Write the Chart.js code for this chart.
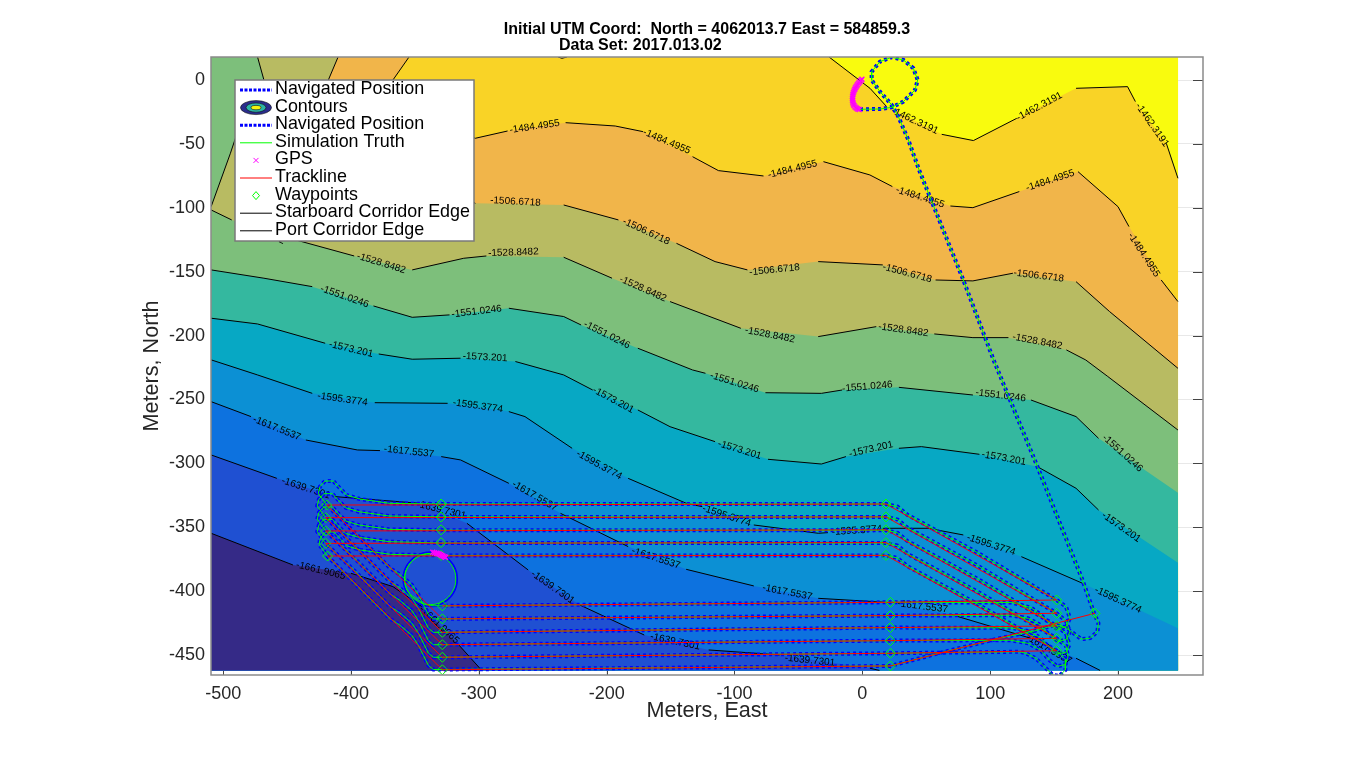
<!DOCTYPE html>
<html><head><meta charset="utf-8">
<style>html,body{margin:0;padding:0;background:#fff;overflow:hidden}canvas{display:block}</style>
<script src="https://cdn.jsdelivr.net/npm/chart.js@4"></script>
</head><body><canvas id="c" width="1368" height="759"></canvas>
<script>
const titleLines = ["Initial UTM Coord:  North = 4062013.7 East = 584859.3", "Data Set: 2017.013.02                              "];
const xTicks = [-500,-400,-300,-200,-100,0,100,200];
const yTicks = [-450,-400,-350,-300,-250,-200,-150,-100,-50,0];
const levels = ["-1462.3191","-1484.4955","-1506.6718","-1528.8482","-1551.0246","-1573.201","-1595.3774","-1617.5537","-1639.7301","-1661.9065"];
const legendNames = ["Navigated Position","Contours","Navigated Position","Simulation Truth","GPS","Trackline","Waypoints","Starboard Corridor Edge","Port Corridor Edge"];
const regionColors = ["#f9fb0e","#f9d326","#f1b54a","#b8bb62","#7dbf7b","#7dbf7b","#34b89f","#07a8c4","#0c90d4","#0d72df","#1f50d2","#352a87"];

// null = break in the line where a contour label sits
const dataExtent = [[-509.5,18],[247,18],[247,-462],[-509.5,-462],[-509.5,18]];
const closeRight = [[247,-462],[-509.5,-462],[-509.5,18]];
const closeRightLow = [[247,-462],[-509.5,-462]];
const closeBottom = [[-509.5,-462]];
const closeCorner = [[-509.5,18]];

const c1462 = [[-26,18],[6,-6.5],[19,-20.8],null,[62.1,-42.5],[86.9,-47.4],[120.8,-30],null,[167.2,-6.5],[207.5,-5.2],[213.6,-16.9],null,[237.8,-49.5],[246.9,-76.9]];
const c1484 = [[-354.6,18],[-367.2,0],[-357.2,-28.7],[-302.7,-45.6],[-277.5,-39.9],null,[-232.1,-33.4],[-193.3,-36],[-171.6,-40.4],null,[-132.8,-60],[-112.6,-70.9],[-77.3,-75.1],null,[-30.4,-63.9],[5.9,-74.3],[23.5,-83.4],null,[68.9,-98.6],[86.5,-99.9],[122.8,-87.3],null,[168.7,-71.7],[200,-99.1],[208.6,-114.7],null,[233.8,-156.5],[246.9,-173.4]];
const c1506 = [[-410.1,18],[-417.7,0],[-392.4,-54.7],[-302.7,-96.5],null,[-233.6,-97.8],[-190.8,-109.5],null,[-145.4,-127.8],[-115.2,-142.1],[-89.9,-148.6],null,[-34.5,-142.1],[16,-144.7],null,[57.3,-156.5],[86.5,-157.2],[117.8,-151.2],null,[167.2,-157.8],[193.4,-181.2],[246.9,-225.6]];
const c1528top = [[-473.1,18],[-468.1,0],[-488.2,-39],[-494.3,-57.3],[-509.4,-99.1]];
const c1528 = [[-509.4,-101.7],[-493.3,-109.5],null,[-452.9,-122.5],[-397.5,-137.7],null,[-352.1,-148.6],[-311.8,-139.5],[-294.1,-137.7],null,[-233.6,-138.7],[-195.8,-155.1],null,[-150.4,-173.4],[-95,-194.3],null,[-34.5,-200.8],[10.9,-193],null,[56.3,-198.7],[86.5,-201.6],[114.3,-201.6],null,[159.6,-211.2],[174.8,-219.1],[192,-232],[246.9,-273.9]];
const c1551 = [[-509.4,-148.6],[-468.1,-155.1],[-430.3,-161.7],null,[-382.4,-176.8],[-352.1,-185.7],[-322.9,-183.8],null,[-276.5,-178.6],[-233.6,-185.1],[-220,-191.7],null,[-175.6,-209.9],[-132.8,-226.9],[-122.7,-229.5],null,[-75.8,-244.7],[-32,-245.2],[-15.8,-242.6],null,[28.6,-240.5],[86.5,-246.5],null,[131.9,-250.4],[167.2,-263.4],[184.8,-280.4],null,[246.9,-322.9]];
const c1573 = [[-509.4,-186.4],[-473.1,-190.9],[-420.2,-206],null,[-378.3,-214.4],[-352.1,-218.5],[-314.3,-217.7],null,[-271.4,-220.3],[-233.6,-230.8],[-210.9,-242.6],null,[-175.6,-258.2],[-150.4,-271.3],[-115.2,-283],null,[-73.8,-296.8],[-32,-300.5],[-12.8,-294.7],null,[28.6,-288.2],[46.2,-286.9],[91.6,-292.9],null,[137,-302.6],[167.2,-319.5],[184.8,-336.5],null,[246.9,-377.7]];
const c1595 = [[-509.4,-219],[-473.1,-230.8],[-430.3,-245.2],null,[-381.4,-252.5],[-324.4,-253],null,[-276.5,-259.5],[-263.9,-263.4],[-227,-288.2],null,[-183.2,-311.7],[-137.8,-331.2],[-125.2,-333.9],null,[-84.9,-348.2],[-34.5,-354.7],[-26.9,-354.2],null,[15.9,-350.8],[51.3,-350.8],[79,-356],null,[124.4,-373],[172.2,-393.8],null,[246.9,-429]];
const c1617 = [[-509.4,-251.7],[-478.2,-263.4],null,[-435.3,-281.7],[-395,-289.5],[-377.3,-290],null,[-329.4,-294.7],[-314.3,-297.3],[-276.5,-315.6],null,[-236.1,-339.1],[-183.2,-365.1],null,[-137.8,-382.9],[-84.9,-395.9],null,[-34.5,-405.6],[18.5,-408.7],null,[68.9,-418.1],[131.9,-436.9],null,[167.2,-452.5],[186,-462]];
const c1639 = [[-509.4,-293.4],[-458,-311.7],null,[-412.6,-326],[-347.1,-331.2],null,[-309.3,-346.9],[-261.4,-383.4],null,[-221,-410.8],[-170.6,-434.3],null,[-120.2,-446],[-64.7,-449.9],null,[5.9,-460.3],[13.4,-462]];
const c1661 = [[-509.4,-354.7],[-445.4,-379.5],null,[-400,-386],[-367.2,-396.4],[-344.6,-412.1],null,[-316.8,-440.8],[-297.7,-462]];
const cTopScrap = [[-238,18],[-235,17],[-231,18]];

// level index, x, y, screen angle in degrees
const contourLabels = [
[0,41,-32,25],[0,138.5,-20.8,-28],[0,226.7,-35.2,55],
[1,-256.3,-36.5,-8],[1,-153,-48.2,23],[1,-54.6,-69.9,-14],[1,45.2,-91.8,18],[1,147,-78.7,-18],[1,220.2,-136.9,57],
[2,-271.4,-95.2,3],[2,-169.1,-118.6,25],[2,-68.7,-148.6,-6],[2,35.1,-151.2,15],[2,138,-153.3,7],
[3,-470,-118,25],[3,-376.3,-143.4,17],[3,-273,-135,-2],[3,-171.6,-163.5,24],[3,-72.3,-199.5,11],[3,32.1,-195.6,8],[3,137,-204.7,11],
[4,-405,-169.5,19],[4,-301.7,-181.2,-7],[4,-199.8,-199.5,27],[4,-100,-236.8,17],[4,3.9,-240,-5],[4,108.2,-247,7],[4,203.5,-292.1,42],
[5,-400,-210.7,13],[5,-295.1,-217,3],[5,-194.8,-250.4,28],[5,-96,-289.5,17],[5,6.9,-289,-13],[5,110.7,-296,10],[5,202.5,-350,35],
[6,-406.6,-249.9,8],[6,-300.7,-255.1,8],[6,-205.9,-301.3,29],[6,-106.1,-341.2,18],[6,-4.2,-352.6,-4],[6,100.7,-363.8,18],[6,200,-406.9,25],
[7,-458,-272.6,22],[7,-354.6,-290.8,6],[7,-256.3,-325.5,30],[7,-161.5,-374.3,18],[7,-58.7,-400.9,11],[7,47.2,-412.1,7],[7,146,-445.5,30],
[8,-435.3,-319.5,18],[8,-329.4,-336.5,14],[8,-242.2,-397,35],[8,-146.4,-439.5,12],[8,-41,-454.3,6],
[9,-423.7,-383.9,14],[9,-331,-426.4,43]];

const surveyPath = [[-1.8,-22.9],[13.8,-22.7],[23,-21.4],[32.1,-16.9],[41.2,-7.8],[43.3,0],[39.9,9.2],[32.1,15.7],[23,17.8],[13.8,14.4],[7.3,6.5],[7.3,0],[13.8,-9.1],[23,-19.5],[28.2,-28.7],[36,-46.9],[44.4,-70.4],[79,-156.5],[102.7,-219.1],[137,-302.6],[172.2,-391.2],[181.3,-417.3],[184.7,-425.1],[183.9,-431.6],[178.2,-436.8],[171.6,-437.6],[165.1,-432.9],[158.6,-428.2],[151.3,-426.4],[135,-431],[106.7,-437],[64,-447.5],[22,-458.5],[-328.5,-461.3],
[-335.6,-461.3],[-339.5,-458],[-343.4,-450.2],[-347.3,-442.3],[-352.5,-434.5],[-361.7,-426.7],[-369.5,-421.5],[-395,-396],[-418.5,-372.5],
[-425,-363.3],[-423.8,-358.1],[-419.9,-353.7],[-413.3,-353.7],[-408.1,-359.4],[-402.9,-364.7],[-392.5,-367.8],[-369,-371.2],[-329.5,-372],[18.5,-372],
[27.6,-374.1],[35.5,-380.6],[90,-410],[152,-446.6],
[159.3,-453.9],[158.8,-461.7],[154,-466.4],[148.9,-465.6],[143.7,-460.4],[135.8,-452.6],[128,-448.6],[123,-447.4],[22,-448.6],[-328.5,-451.7],
[-335.6,-451.7],[-339.5,-448.4],[-343.4,-440.6],[-347.3,-432.7],[-352.5,-424.9],[-361.7,-417.1],[-369.5,-411.9],[-395,-386.2],[-419.8,-362.6],
[-426.4,-353.4],[-425.1,-348.2],[-421.2,-343.8],[-414.6,-343.8],[-409.4,-349.5],[-404.2,-354.8],[-393.8,-357.9],[-370.3,-361.3],[-329.5,-362.3],[18.5,-362.3],
[27.6,-364.4],[35.5,-370.9],[90,-400.3],[152,-436.9],
[159.3,-442.9],[161,-451.4],[158.5,-457.4],[152.5,-458.9],[146.3,-453.9],[139,-445.9],[130,-440.9],[116,-438.4],[22,-438.7],[-328.5,-441.9],
[-335.6,-441.9],[-339.5,-438.6],[-343.4,-430.8],[-347.3,-422.9],[-352.5,-415.1],[-361.7,-407.3],[-369.5,-402.1],[-395,-376.4],[-419.8,-352.9],
[-426.4,-343.7],[-425.1,-338.5],[-421.2,-334.1],[-414.6,-334.1],[-409.4,-339.8],[-404.2,-345.1],[-393.8,-348.2],[-370.3,-351.6],[-329.5,-352.3],[18.5,-352.3],
[27.6,-354.4],[35.5,-360.9],[90,-390.3],[152,-427.2],
[159.3,-433.2],[162,-441.7],[159.5,-447.7],[153,-449.2],[146.3,-444.2],[139,-436.2],[130,-431.2],[116,-428.7],[22,-428.5],[-328.5,-432.2],
[-335.6,-432.2],[-339.5,-428.9],[-343.4,-421.1],[-347.3,-413.2],[-352.5,-405.4],[-361.7,-397.6],[-369.5,-392.4],[-395,-366.7],[-419.8,-342.5],
[-426.4,-333.3],[-425.1,-328.1],[-421.2,-323.7],[-414.6,-323.7],[-409.4,-329.4],[-404.2,-334.7],[-393.8,-337.8],[-370.3,-341.2],[-329.5,-341.9],[18.5,-341.9],
[27.6,-344],[35.5,-350.5],[90,-379.9],[152,-417.3],
[159.3,-423.3],[162.4,-431.8],[159.5,-437.8],[153,-439.3],[146.3,-434.3],[139,-426.3],[130,-421.3],[116,-418.8],[22,-419.1],[-328.5,-421.7],
[-335.6,-421.7],[-339.5,-418.4],[-343.4,-410.6],[-347.3,-402.7],[-352.5,-394.9],[-361.7,-387.1],[-369.5,-381.9],[-395,-356.2],[-419,-332.6],
[-425.6,-323.4],[-424.3,-318.2],[-420.4,-313.8],[-413.8,-313.8],[-408.6,-319.5],[-403.4,-324.8],[-393,-327.9],[-369.5,-331.3],[-329.5,-331.8],[18.5,-331.8],
[27.6,-333.9],[35.5,-340.4],[90,-369.8],[152,-406.9],
[159.3,-412.1],[162.4,-421.2],[159.3,-427.8],[152.8,-429.9],[146.3,-425.2],[139.8,-418.6],[132,-412.9],[117,-408.9],[22,-408.7],[-328.5,-411.5]];

const truthCircle = [[-328.5,-411.5],[-340.8,-410.7],[-347.3,-406.8],[-355.3,-400.5],[-358,-390.5],[-355.3,-380.5],[-348,-373.2],[-338,-370.5],[-328,-373.2],[-320.7,-380.5],[-318,-390.5],[-320.7,-400.5],[-328,-407.8],[-338,-410.5],[-348,-407.8],[-355.3,-400.5],[-358,-390.5],[-355.3,-380.5],[-348,-373.2],[-338,-370.5],[-332,-371]];
const navCircle = [[-328.5,-411.5],[-340.8,-411.5],[-348.5,-408.7],[-356.2,-401],[-359,-390.5],[-356.2,-380],[-348.5,-372.3],[-338,-369.5],[-327.5,-372.3],[-319.8,-380],[-317,-390.5],[-319.8,-401],[-327.5,-408.7],[-338,-411.5],[-348.5,-408.7],[-356.2,-401],[-359,-390.5],[-356.2,-380],[-348.5,-372.3],[-338,-369.5],[-332,-370.5]];

const trackline = [[182,-417.3],[22,-458.5],[-328.5,-461.5],[-418.3,-372.5],[18.5,-372],[152,-446.6],[22,-448.6],[-328.5,-451.7],[-419.8,-362.6],[18.5,-362],[152,-436.9],[22,-438.7],[-328.5,-441.9],[-419.8,-352.9],[18.5,-352],[152,-427.2],[22,-428.5],[-328.5,-432.2],[-419.8,-342.5],[18.5,-341.9],[152,-417.3],[22,-419.1],[-328.5,-421.7],[-419,-332.6],[18.5,-331.8],[152,-406.9],[22,-408.7],[-328.5,-411.5]];

const waypoints = [[182,-417.3],[22,-458.5],[-328.5,-461.5],[-418.3,-372.5],[-329.5,-372],[18.5,-372],[152,-446.6],[22,-448.6],[-328.5,-451.7],[-419.8,-362.6],[-329.5,-362],[18.5,-362],[152,-436.9],[22,-438.7],[-328.5,-441.9],[-419.8,-352.9],[-329.5,-352],[18.5,-352],[152,-427.2],[22,-428.5],[-328.5,-432.2],[-419.8,-342.5],[-329.5,-341.9],[18.5,-341.9],[152,-417.3],[22,-419.1],[-328.5,-421.7],[-419,-332.6],[-329.5,-331.8],[18.5,-331.8],[152,-406.9],[22,-408.7],[-328.5,-411.5]];

const gpsFixes = [[-0.3,0.6],[-1.2,-0.4],[-2.1,-1.5],[-3,-2.6],[-3.8,-3.7],[-4.6,-4.8],[-5.3,-6],[-5.9,-7.3],[-6.5,-8.6],[-7,-10],[-7.4,-11.4],[-7.6,-12.9],[-7.7,-14.4],[-7.7,-15.9],[-7.5,-17.4],[-7.1,-18.8],[-6.5,-20],[-5.7,-21.1],[-4.7,-22],[-3.6,-22.7],[-2.4,-23.1],
[-336,-369.5],[-334.5,-370],[-333,-370.3],[-332,-370.6],[-331,-371],[-330,-371.5],[-329,-372],[-328,-372.5],[-327,-373],[-326,-373.5]];

const FONT = '"Liberation Sans", Arial, sans-serif';
const pts = a => a.map(p => ({x:p[0], y:p[1]}));
const runsOf = a => { const out=[]; let cur=[]; a.forEach(p=>{ if(p){cur.push(p);} else {out.push(cur);cur=[];} }); out.push(cur); return out; };
const solid = a => a.filter(Boolean);

const regions = [
 [dataExtent,[]],[c1462,closeRight],[c1484,closeRight],[c1506,closeRight],
 [c1528top,closeCorner],[c1528,closeRightLow],[c1551,closeRightLow],[c1573,closeRightLow],
 [c1595,closeRightLow],[c1617,closeBottom],[c1639,closeBottom],[c1661,closeBottom]];
const contours = [c1462,c1484,c1506,c1528top,c1528,c1551,c1573,c1595,c1617,c1639,c1661,cTopScrap];

const datasets = [];
regions.forEach((r,i)=>{
  const poly = solid(r[0]).concat(r[1]);
  poly.push(poly[0]);
  datasets.push({label:'region'+i,data:pts(poly),order:200-i,fill:'shape',backgroundColor:regionColors[i],borderWidth:0,pointRadius:0,tension:0});
});
contours.forEach((c,i)=>runsOf(c).forEach(run=>{
  datasets.push({label:'contour'+i,data:pts(run),order:60,fill:false,borderColor:'#000',borderWidth:1,pointRadius:0,tension:0});
}));
datasets.push({label:'contourLabels',data:contourLabels.map(l=>({x:l[1],y:l[2]})),order:50,showLine:false,pointRadius:0,isLabels:true});
datasets.push({label:'Navigated Position',data:pts(surveyPath),order:40,fill:false,borderColor:'#0000ff',borderWidth:4,borderDash:[3,3],pointRadius:0,tension:0});
datasets.push({label:'Navigated Position',data:pts(navCircle),order:39,fill:false,borderColor:'#0000ff',borderWidth:2,pointRadius:0,tension:0.4});
datasets.push({label:'Simulation Truth',data:pts(surveyPath),order:30,fill:false,borderColor:'#00ff00',borderWidth:1,pointRadius:0,tension:0});
datasets.push({label:'Simulation Truth',data:pts(truthCircle),order:29,fill:false,borderColor:'#00ff00',borderWidth:1,pointRadius:0,tension:0.4});
datasets.push({label:'Trackline',data:pts(trackline),order:25,fill:false,borderColor:'#ff0000',borderWidth:1,pointRadius:0,tension:0});
datasets.push({label:'Waypoints',data:pts(waypoints),order:20,showLine:false,pointStyle:'rectRot',pointRadius:5,pointBorderColor:'#00ff00',pointBackgroundColor:'rgba(0,0,0,0)',pointBorderWidth:1});
datasets.push({label:'GPS',data:pts(gpsFixes),order:10,showLine:false,pointStyle:'crossRot',pointRadius:3.5,pointBorderColor:'#ff00ff',pointBorderWidth:1.5});

const annotate = {
  id:'annotate',
  beforeDatasetsDraw(ch){
    const {ctx,chartArea:a,scales:{x,y}}=ch;
    ctx.save();ctx.strokeStyle='#444';ctx.lineWidth=1;ctx.beginPath();
    xTicks.forEach(v=>{const p=Math.round(x.getPixelForValue(v))+.5;ctx.moveTo(p,a.bottom);ctx.lineTo(p,a.bottom-10);ctx.moveTo(p,a.top);ctx.lineTo(p,a.top+10);});
    yTicks.forEach(v=>{const p=Math.round(y.getPixelForValue(v))+.5;ctx.moveTo(a.left,p);ctx.lineTo(a.left+10,p);ctx.moveTo(a.right,p);ctx.lineTo(a.right-10,p);});
    ctx.stroke();ctx.restore();
  },
  afterDatasetDraw(ch,args){
    const ds=ch.data.datasets[args.index];
    if(!ds.isLabels)return;
    const {ctx,scales:{x,y}}=ch;
    ctx.save();ctx.fillStyle='#000';ctx.font='10px '+FONT;ctx.textAlign='center';ctx.textBaseline='middle';
    contourLabels.forEach(l=>{ctx.save();ctx.translate(x.getPixelForValue(l[1]),y.getPixelForValue(l[2]));ctx.rotate(l[3]*Math.PI/180);ctx.fillText(levels[l[0]],0,0);ctx.restore();});
    ctx.restore();
  },
  afterDraw(ch){
    const {ctx,chartArea:a}=ch;
    ctx.save();
    ctx.strokeStyle='#8a8a8a';ctx.lineWidth=1.5;ctx.strokeRect(a.left,a.top,a.right-a.left,a.bottom-a.top);
    const bx=235,by=80,bw=239,bh=161;
    ctx.fillStyle='#fff';ctx.fillRect(bx,by,bw,bh);
    ctx.strokeStyle='#7a7a7a';ctx.lineWidth=1.5;ctx.strokeRect(bx,by,bw,bh);
    ctx.font='17.9px '+FONT;ctx.textBaseline='middle';ctx.textAlign='left';
    legendNames.forEach((n,i)=>{
      const yy=88+i*17.6;
      ctx.fillStyle='#000';ctx.fillText(n,275,yy+1);
      const ly=yy+2;
      const sample=(col,w,dash)=>{ctx.save();ctx.strokeStyle=col;ctx.lineWidth=w;ctx.setLineDash(dash||[]);ctx.beginPath();ctx.moveTo(240,ly);ctx.lineTo(272,ly);ctx.stroke();ctx.restore();};
      if(i===0||i===2)sample('#0000ff',3,[3,1.5]);
      if(i===3)sample('#00ff00',1);
      if(i===5)sample('#ff0000',1);
      if(i===7||i===8)sample('#000',1);
      if(i===1){[[15.5,7,'#2a2c8c'],[10,4.6,'#2db5a5'],[5,2.2,'#f5f50e']].forEach(e=>{ctx.beginPath();ctx.ellipse(256,yy+2,e[0],e[1],0,0,Math.PI*2);ctx.fillStyle=e[2];ctx.fill();ctx.strokeStyle='#111';ctx.lineWidth=.6;ctx.stroke();});}
      if(i===4){ctx.strokeStyle='#ff00ff';ctx.lineWidth=1;ctx.beginPath();ctx.moveTo(253.5,yy-.5);ctx.lineTo(258.5,yy+4.5);ctx.moveTo(258.5,yy-.5);ctx.lineTo(253.5,yy+4.5);ctx.stroke();}
      if(i===6){ctx.strokeStyle='#00ff00';ctx.lineWidth=1;ctx.beginPath();ctx.moveTo(256,yy-2);ctx.lineTo(259.5,yy+2);ctx.lineTo(256,yy+6);ctx.lineTo(252.5,yy+2);ctx.closePath();ctx.stroke();}
    });
    ctx.restore();
  }
};

new Chart(document.getElementById('c'),{
  type:'line',
  data:{datasets},
  plugins:[annotate],
  options:{
    responsive:false,animation:false,events:[],devicePixelRatio:1,
    parsing:true,
    layout:{padding:{left:0,right:165,top:0,bottom:0}},
    plugins:{
      legend:{display:false},tooltip:{enabled:false},
      title:{display:true,text:titleLines,fullSize:false,color:'#000',font:{family:FONT,size:16,weight:'bold',lineHeight:1},padding:{top:22,bottom:3}}
    },
    scales:{
      x:{type:'linear',min:-509.5,max:266.5,
        afterBuildTicks:s=>{s.ticks=xTicks.map(v=>({value:v}));},
        afterFit:s=>{s.height=84;},
        grid:{color:'#e8e8e8',drawTicks:false,lineWidth:1},border:{display:false},
        ticks:{color:'#262626',font:{family:FONT,size:18},padding:8,maxRotation:0,autoSkip:false,callback:v=>String(v)},
        title:{display:true,text:'Meters, East',color:'#262626',font:{family:FONT,size:21.6},padding:{top:0,bottom:35}}},
      y:{type:'linear',min:-465.6,max:18,
        afterBuildTicks:s=>{s.ticks=yTicks.map(v=>({value:v}));},
        afterFit:s=>{s.width=211;},
        grid:{color:'#e8e8e8',drawTicks:false,lineWidth:1},border:{display:false},
        ticks:{color:'#262626',font:{family:FONT,size:18},padding:6,autoSkip:false,callback:v=>String(v)},
        title:{display:true,text:'Meters, North',color:'#262626',font:{family:FONT,size:21.6},padding:{top:139,bottom:0}}}
    }
  }
});
</script></body></html>
